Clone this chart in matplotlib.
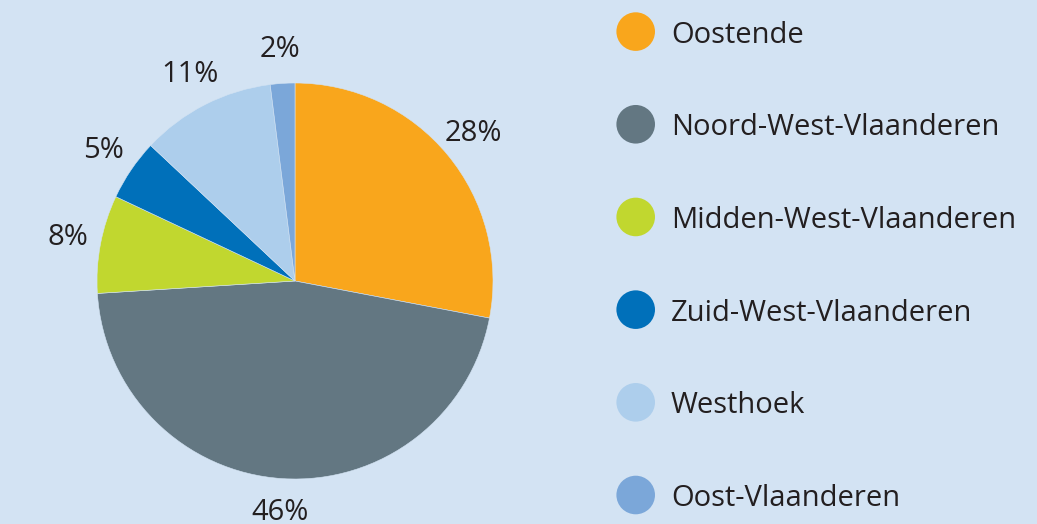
import matplotlib.pyplot as plt

regions = ['Oostende', 'Noord-West-Vlaanderen', 'Midden-West-Vlaanderen',
           'Zuid-West-Vlaanderen', 'Westhoek', 'Oost-Vlaanderen']
shares = [28, 46, 8, 5, 11, 2]
colors = ['#F9A61C', '#637782', '#C1D72F', '#0070BA', '#ADCEEC', '#7BA7D9']

bg = '#D3E3F3'
txt = '#231F20'
plt.rcParams['font.family'] = ['Open Sans', 'DejaVu Sans']

W, H = 1037, 524
fig = plt.figure(figsize=(W / 100, H / 100), dpi=100, facecolor=bg)

# pie: centre (295, 281) px from top, radius 198 px; default pie limits are +-1.25
half = 198 * 1.25
ax = fig.add_axes([(295 - half) / W, (H - 281 - half) / H, 2 * half / W, 2 * half / H])
ax.set_facecolor(bg)
wedges, labels, pcts = ax.pie(shares, colors=colors, startangle=90, counterclock=False,
                              autopct=lambda p: f'{p:.0f}%', pctdistance=1.17,
                              wedgeprops=dict(edgecolor=bg, linewidth=0.4))
for t in pcts:
    t.set_fontsize(21)
    t.set_color(txt)
    t.set_clip_on(False)
ax.set_xlim(-1.25, 1.25)
ax.set_ylim(-1.25, 1.25)
ax.set_aspect('equal')

# legend drawn as its own axes, one row per region
row = 92.7
lx = 600
lax = fig.add_axes([lx / W, 0, (W - lx) / W, 1])
lax.set_facecolor(bg)
lax.axis('off')
lax.set_xlim(-(635.7 - lx) / row, (W - 635.7) / row)
lax.set_ylim(5 + (H - 495) / row, -31.6 / row)
ypos = list(range(len(regions)))
lax.scatter([0] * len(regions), ypos, s=772, c=colors, linewidths=0)
for y, name in zip(ypos, regions):
    lax.text(0.38, y, name, fontsize=21, color=txt, ha='left', va='center_baseline')

fig.savefig('out.png', dpi=100, facecolor=bg)
